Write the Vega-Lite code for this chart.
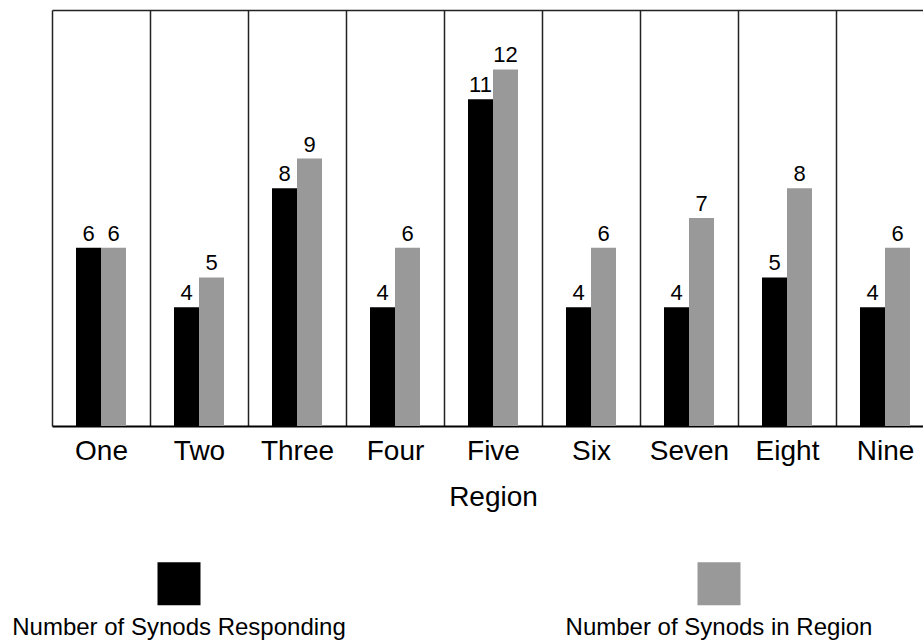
{
  "$schema": "https://vega.github.io/schema/vega-lite/v6.json",
  "autosize": {"type": "none"},
  "padding": {"left": 52, "top": 10, "right": 0, "bottom": 214},
  "width": 871,
  "height": 416,
  "background": "white",
  "config": {"font": "Liberation Sans", "view": {"stroke": null}},
  "data": {
    "values": [
      {"region": "One", "series": "Number of Synods Responding", "value": 6},
      {"region": "One", "series": "Number of Synods in Region", "value": 6},
      {"region": "Two", "series": "Number of Synods Responding", "value": 4},
      {"region": "Two", "series": "Number of Synods in Region", "value": 5},
      {"region": "Three", "series": "Number of Synods Responding", "value": 8},
      {"region": "Three", "series": "Number of Synods in Region", "value": 9},
      {"region": "Four", "series": "Number of Synods Responding", "value": 4},
      {"region": "Four", "series": "Number of Synods in Region", "value": 6},
      {"region": "Five", "series": "Number of Synods Responding", "value": 11},
      {"region": "Five", "series": "Number of Synods in Region", "value": 12},
      {"region": "Six", "series": "Number of Synods Responding", "value": 4},
      {"region": "Six", "series": "Number of Synods in Region", "value": 6},
      {"region": "Seven", "series": "Number of Synods Responding", "value": 4},
      {"region": "Seven", "series": "Number of Synods in Region", "value": 7},
      {"region": "Eight", "series": "Number of Synods Responding", "value": 5},
      {"region": "Eight", "series": "Number of Synods in Region", "value": 8},
      {"region": "Nine", "series": "Number of Synods Responding", "value": 4},
      {"region": "Nine", "series": "Number of Synods in Region", "value": 6}
    ]
  },
  "encoding": {
    "x": {
      "field": "region",
      "type": "nominal",
      "sort": ["One", "Two", "Three", "Four", "Five", "Six", "Seven", "Eight", "Nine"],
      "scale": {"range": [0, 882], "paddingInner": 0, "paddingOuter": 0},
      "axis": {
        "title": "Region",
        "titleFontSize": 28,
        "titleFontWeight": "normal",
        "titleColor": "black",
        "titlePadding": 18,
        "labelFontSize": 28,
        "labelColor": "black",
        "labelAngle": 0,
        "labelPadding": 11,
        "ticks": false,
        "tickBand": "extent",
        "domainColor": "black",
        "domainWidth": 2,
        "grid": true,
        "gridColor": "#222222",
        "gridWidth": 1.5,
        "gridOpacity": 1
      }
    },
    "xOffset": {
      "field": "series",
      "type": "nominal",
      "sort": ["Number of Synods Responding", "Number of Synods in Region"],
      "scale": {"paddingInner": 0, "paddingOuter": 0.96}
    },
    "y": {
      "field": "value",
      "type": "quantitative",
      "scale": {"domain": [0, 14], "nice": false},
      "axis": {
        "values": [14],
        "grid": true,
        "gridColor": "#222222",
        "gridWidth": 1.5,
        "gridOpacity": 1,
        "labels": false,
        "ticks": false,
        "domain": false,
        "title": null
      }
    }
  },
  "layer": [
    {
      "mark": {"type": "bar"},
      "encoding": {
        "color": {
          "field": "series",
          "type": "nominal",
          "sort": ["Number of Synods Responding", "Number of Synods in Region"],
          "scale": {"range": ["#000000", "#999999"]},
          "legend": {
            "title": null,
            "orient": "none",
            "legendX": 105.5,
            "legendY": 552,
            "direction": "horizontal",
            "symbolType": "square",
            "symbolSize": 1849,
            "symbolStrokeWidth": 0,
            "symbolOpacity": 1,
            "labelFontSize": 24,
            "labelColor": "black",
            "labelAlign": "center",
            "labelBaseline": "alphabetic",
            "labelOffset": -21.5,
            "labelLimit": 0,
            "columnPadding": 219,
            "padding": 0,
            "encode": {"labels": {"update": {"dy": {"value": 51}}}}
          }
        }
      }
    },
    {
      "mark": {"type": "text", "baseline": "alphabetic", "dy": -7, "fontSize": 22, "color": "black"},
      "encoding": {"text": {"field": "value", "type": "quantitative"}}
    }
  ]
}
